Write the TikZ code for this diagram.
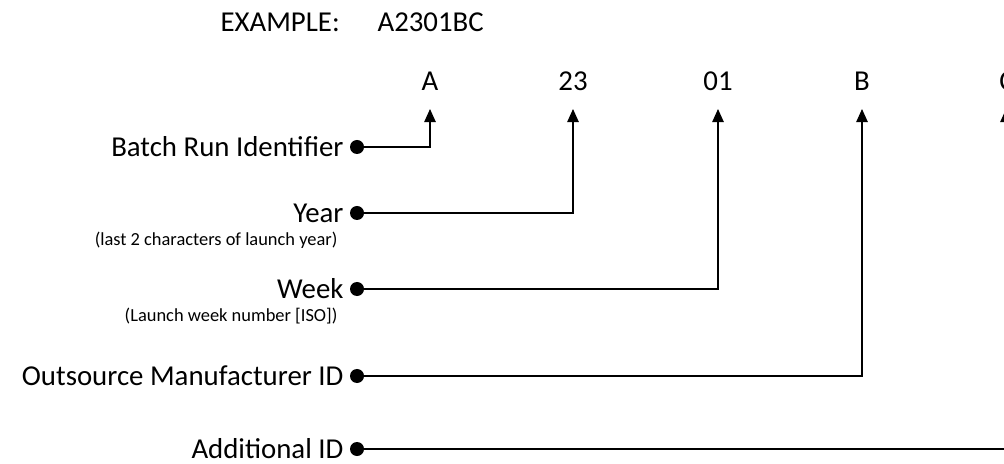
\documentclass[tikz,border=0pt]{standalone}
\usepackage{fontspec}
\setmainfont{Carlito}
\usetikzlibrary{arrows.meta}

\begin{document}
\begin{tikzpicture}[x=0.025cm, y=-0.025cm, >={Triangle[width=0.29cm,length=0.33cm]}, line width=0.8pt,
	field/.style={anchor=east, inner sep=0pt, font=\fontsize{20.5}{24}\selectfont},
	note/.style={anchor=east, inner sep=0pt, font=\fontsize{13.1}{15}\selectfont},
	part/.style={inner sep=0pt, font=\fontsize{20.5}{24}\selectfont},
	dot/.style={circle, fill=black, inner sep=0pt, minimum size=0.35cm}]
	\useasboundingbox (0,0) rectangle (1004,464);
	\node [part, anchor=west] (title) at (220,22) {EXAMPLE:};
	\node [part, anchor=west] (sample) at (377,22) {A2301BC};
	\node [part] (codeA) at (430,81) {A};
	\node [part] (codeY) at (573,81) {23};
	\node [part] (codeW) at (718,81) {01};
	\node [part] (codeB) at (862,81) {B};
	\node [part] (codeC) at (1007,81) {C};
	\coordinate (tipA) at (430,109);
	\coordinate (tipY) at (573,109);
	\coordinate (tipW) at (718,109);
	\coordinate (tipB) at (862,109);
	\coordinate (tipC) at (1006,109);
	\node [field] (batch) at (344,147) {Batch Run Identifier};
	\node [field] (year) at (344,213) {Year};
	\node [note] (yearnote) at (338,240) {(last 2 characters of launch year)};
	\node [field] (week) at (344,289) {Week};
	\node [note] (weeknote) at (338,316) {(Launch week number [ISO])};
	\node [field] (maker) at (344,376) {Outsource Manufacturer ID};
	\node [field] (extra) at (344,449) {Additional ID};
	\node [dot] (batchdot) at (357,147) {};
	\node [dot] (yeardot) at (357,213) {};
	\node [dot] (weekdot) at (357,289) {};
	\node [dot] (makerdot) at (357,376) {};
	\node [dot] (extradot) at (357,449) {};
	\draw [->] (batchdot.center) -| (tipA);
	\draw [->] (yeardot.center) -| (tipY);
	\draw [->] (weekdot.center) -| (tipW);
	\draw [->] (makerdot.center) -| (tipB);
	\draw [->] (extradot.center) -| (tipC);
\end{tikzpicture}
\end{document}
